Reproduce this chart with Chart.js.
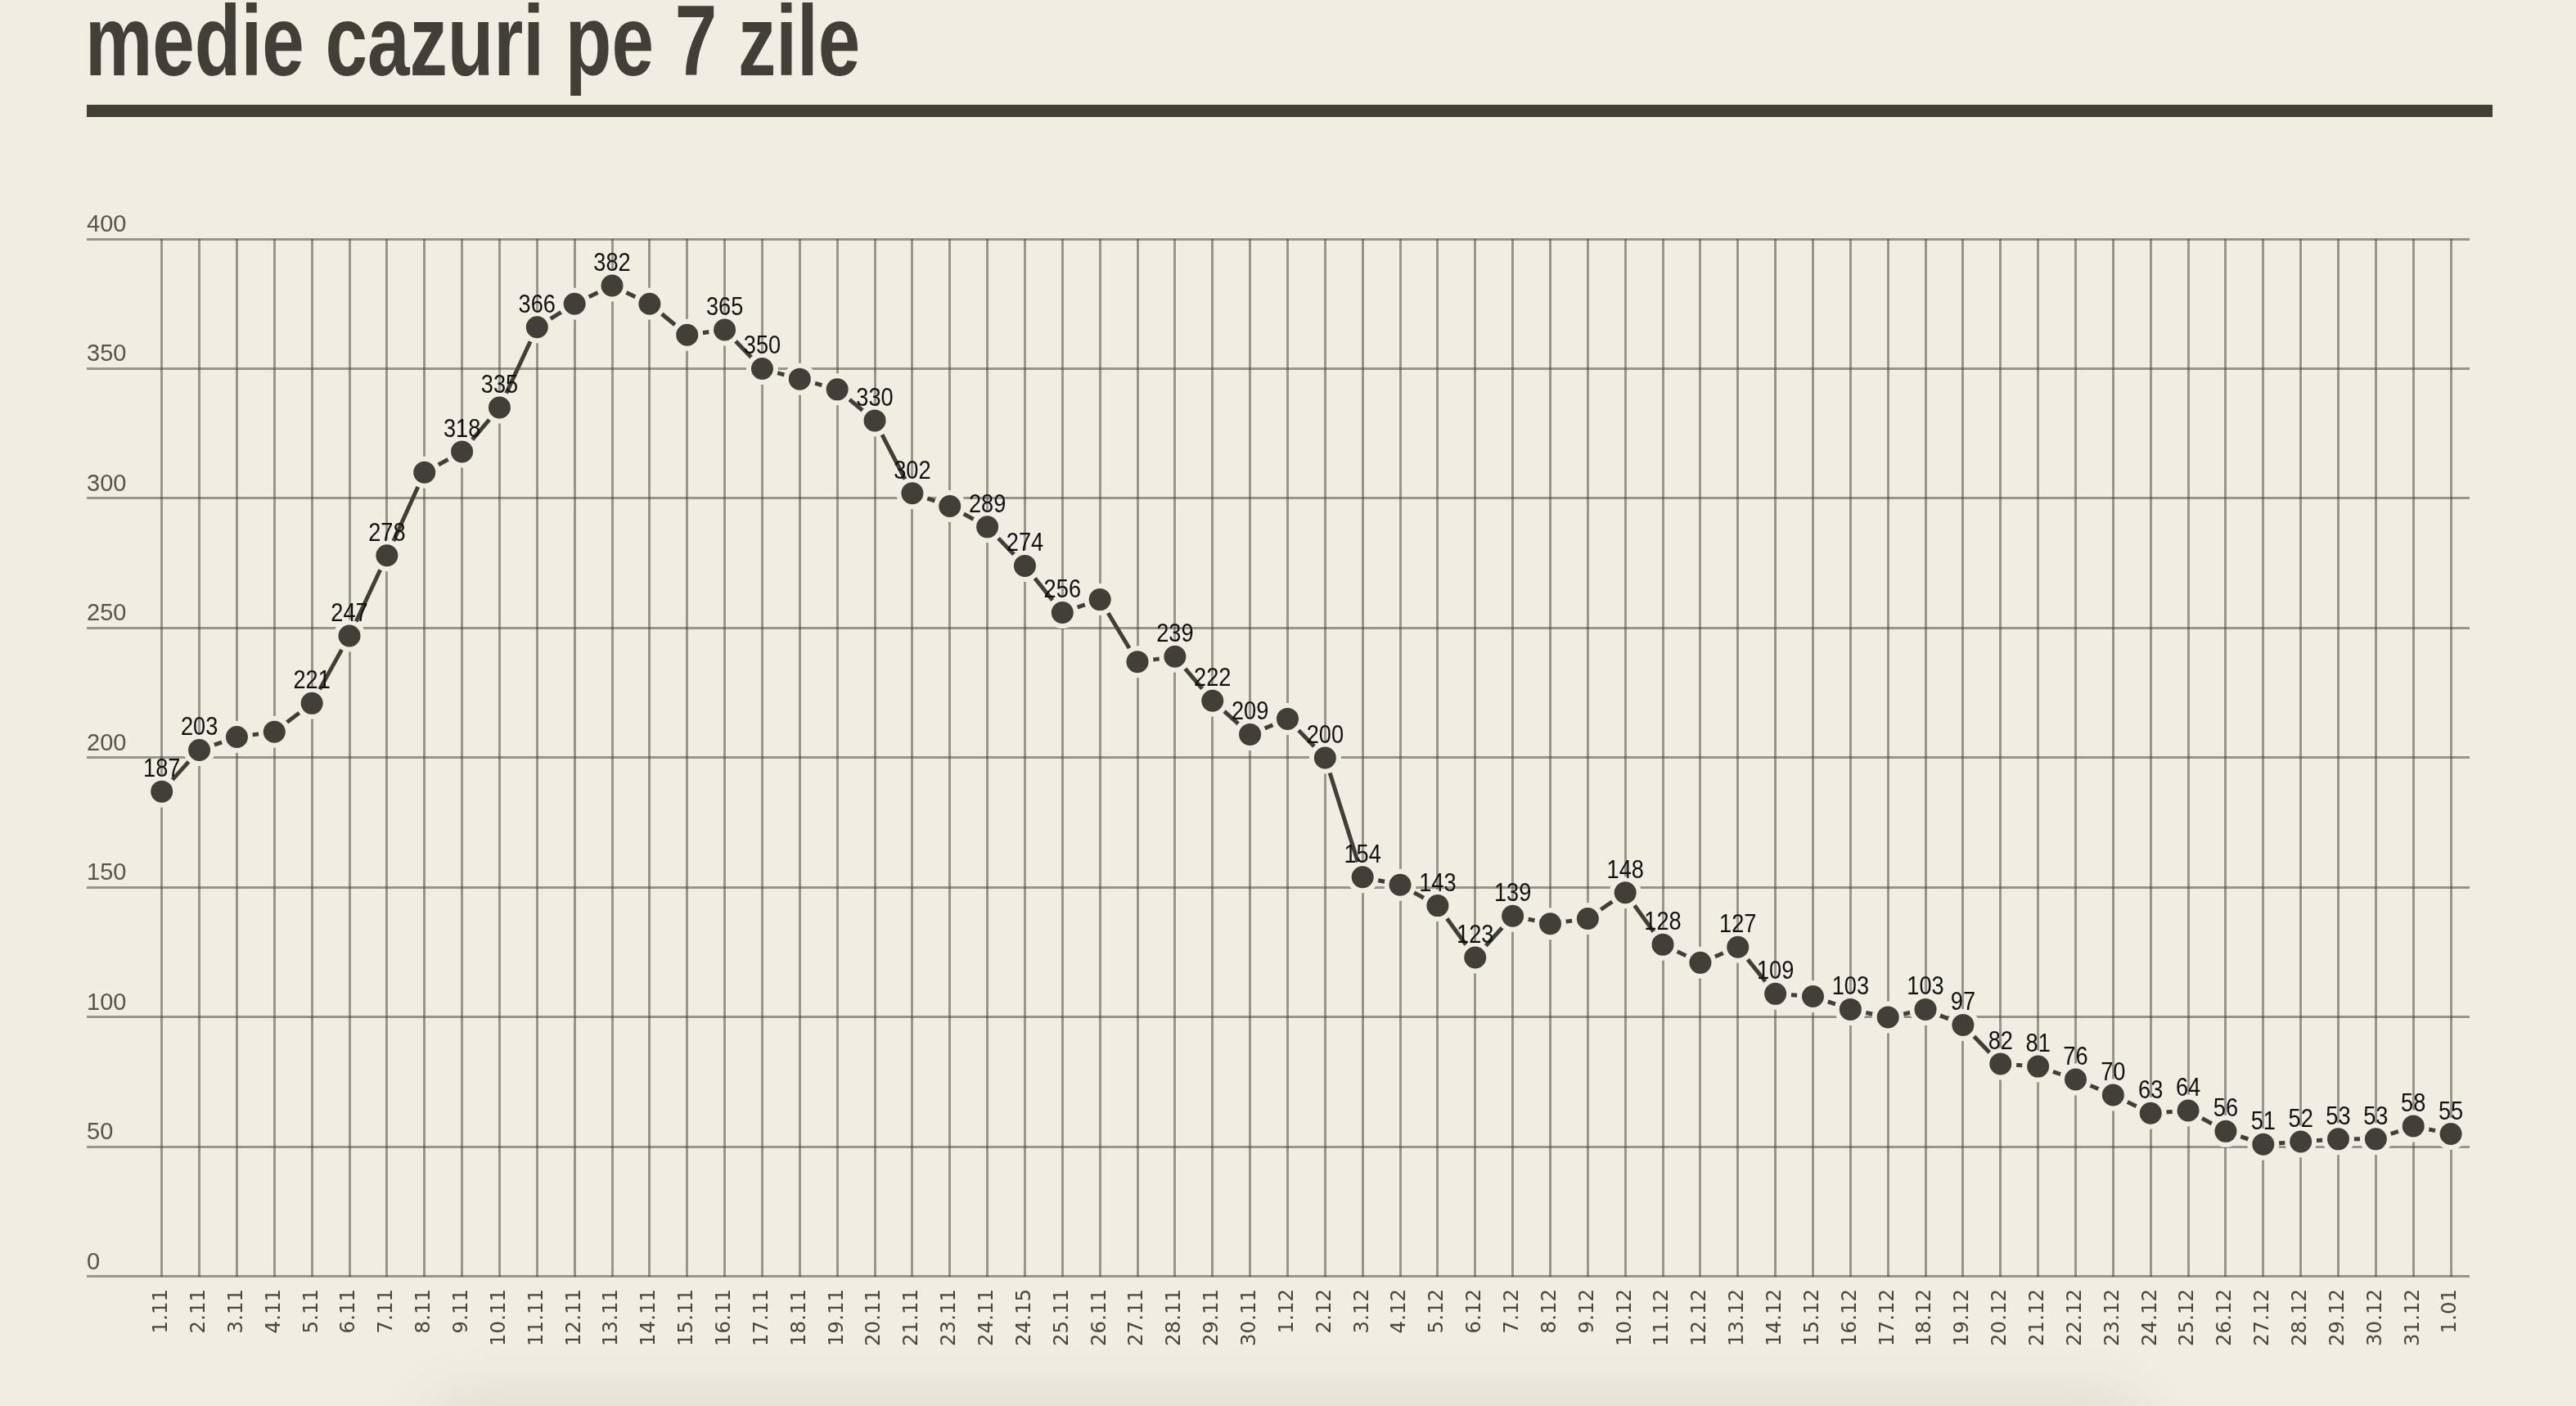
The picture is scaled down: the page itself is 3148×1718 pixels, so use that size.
<!DOCTYPE html>
<html>
<head>
<meta charset="utf-8">
<script src="https://cdn.jsdelivr.net/npm/chart.js@4.4.1/dist/chart.umd.min.js"></script>
<style>
  html, body { margin: 0; padding: 0; }
  body { width: 3148px; height: 1718px; background: #f1ede3; position: relative; overflow: hidden; }
  .title {
    position: absolute; left: 104px; top: -12px; margin: 0;
    font: bold 123px/1 "Liberation Sans", sans-serif;
    color: #423f38; white-space: nowrap;
    transform: scaleX(0.753); transform-origin: left top;
  }
  .rule { position: absolute; left: 106px; top: 128px; width: 2940px; height: 15px; background: #423f38; }
  .shade {
    position: absolute; left: 540px; top: 1722px; width: 2060px; height: 200px;
    background: #e3dfd4; box-shadow: 0 0 70px 10px rgba(90, 80, 60, 0.12);
  }
  #chart { position: absolute; left: 0; top: 150px; }
</style>
</head>
<body>
<h1 class="title">medie cazuri pe 7 zile</h1>
<div class="rule"></div>
<div class="shade"></div>
<canvas id="chart" width="3148" height="1568"></canvas>
<script>
const dates = [
  '1.11', '2.11', '3.11', '4.11', '5.11', '6.11', '7.11', '8.11', '9.11', '10.11',
  '11.11', '12.11', '13.11', '14.11', '15.11', '16.11', '17.11', '18.11', '19.11', '20.11',
  '21.11', '23.11', '24.11', '24.15', '25.11', '26.11', '27.11', '28.11', '29.11', '30.11',
  '1.12', '2.12', '3.12', '4.12', '5.12', '6.12', '7.12', '8.12', '9.12', '10.12',
  '11.12', '12.12', '13.12', '14.12', '15.12', '16.12', '17.12', '18.12', '19.12', '20.12',
  '21.12', '22.12', '23.12', '24.12', '25.12', '26.12', '27.12', '28.12', '29.12', '30.12',
  '31.12', '1.01',
];

const values = [
  187, 203, 208, 210, 221, 247, 278, 310, 318, 335,
  366, 375, 382, 375, 363, 365, 350, 346, 342, 330,
  302, 297, 289, 274, 256, 261, 237, 239, 222, 209,
  215, 200, 154, 151, 143, 123, 139, 136, 138, 148,
  128, 121, 127, 109, 108, 103, 100, 103, 97, 82,
  81, 76, 70, 63, 64, 56, 51, 52, 53, 53,
  58, 55,
];

// days whose value is written above the dot
const labelled = [
  '1.11', '2.11', '5.11', '6.11', '7.11', '9.11', '10.11', '11.11', '13.11', '16.11',
  '17.11', '20.11', '21.11', '24.11', '24.15', '25.11', '28.11', '29.11', '30.11', '2.12',
  '3.12', '5.12', '6.12', '7.12', '10.12', '11.12', '13.12', '14.12', '16.12', '18.12',
  '19.12', '20.12', '21.12', '22.12', '23.12', '24.12', '25.12', '26.12', '27.12', '28.12',
  '29.12', '30.12', '31.12', '1.01',
];

const yTicks = [0, 50, 100, 150, 200, 250, 300, 350, 400];

const ink = '#423f38';
const bg = '#f1ede3';
const gridColor = 'rgba(66, 62, 54, 0.5)';

const valueLabels = {
  id: 'valueLabels',
  afterDatasetsDraw(chart) {
    const ctx = chart.ctx;
    const meta = chart.getDatasetMeta(0);
    ctx.save();
    ctx.font = '32px "Liberation Sans", sans-serif';
    ctx.fillStyle = '#111';
    ctx.textAlign = 'center';
    ctx.textBaseline = 'alphabetic';
    meta.data.forEach((pt, i) => {
      if (!labelled.includes(dates[i])) return;
      ctx.save();
      ctx.translate(pt.x, pt.y - 18);
      ctx.scale(0.85, 1);
      ctx.fillText(String(values[i]), 0, 0);
      ctx.restore();
    });
    ctx.restore();
  },
};

new Chart(document.getElementById('chart'), {
  type: 'line',
  data: {
    datasets: [{
      data: values.map((v, i) => ({ x: i, y: v })),
      borderColor: ink,
      borderWidth: 5,
      pointRadius: 16.5,
      pointBorderWidth: 6,
      pointBackgroundColor: ink,
      pointBorderColor: bg,
      tension: 0,
    }],
  },
  options: {
    responsive: false,
    animation: false,
    layout: { padding: { left: 106, right: 130, top: 142, bottom: 58 } },
    plugins: { legend: { display: false }, tooltip: { enabled: false } },
    scales: {
      x: {
        type: 'linear',
        min: -2,
        max: 61.5,
        border: { display: false },
        afterBuildTicks: (axis) => { axis.ticks = dates.map((d, i) => ({ value: i })); },
        grid: { drawTicks: false, lineWidth: 3, color: gridColor },
        ticks: {
          autoSkip: false,
          minRotation: 90,
          maxRotation: 90,
          padding: 15,
          color: '#4a463e',
          font: { family: 'DejaVu Sans', size: 24.5 },
          callback: (v) => dates[v] ?? '',
        },
      },
      y: {
        min: 0,
        max: 400,
        border: { display: false },
        afterBuildTicks: (axis) => { axis.ticks = yTicks.map((value) => ({ value })); },
        grid: { drawTicks: false, lineWidth: 3, color: gridColor },
        ticks: {
          mirror: true,
          padding: 0,
          labelOffset: -17,
          color: '#5a554b',
          font: { family: 'Liberation Sans', size: 29 },
        },
      },
    },
  },
  plugins: [valueLabels],
});
</script>
</body>
</html>
